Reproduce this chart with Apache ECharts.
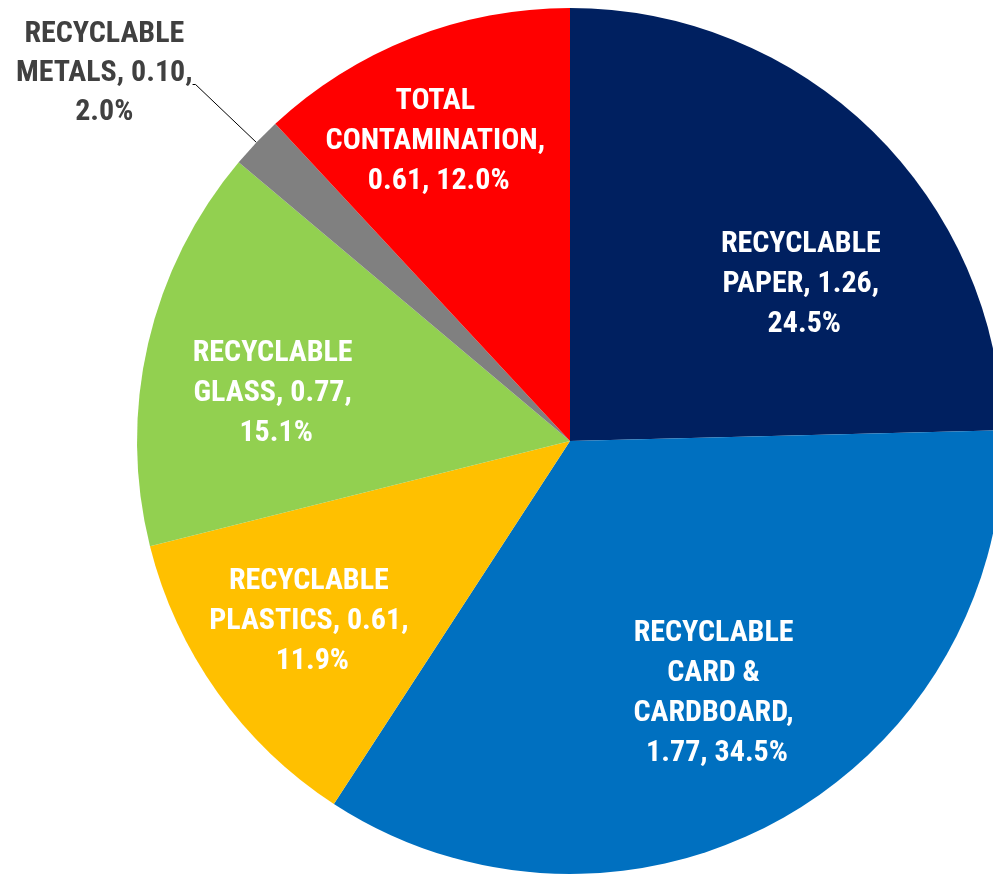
<!DOCTYPE html>
<html>
<head>
<meta charset="utf-8">
<script src="https://cdn.jsdelivr.net/npm/echarts@6/dist/echarts.min.js"></script>
<style>
  html, body { margin: 0; padding: 0; background: #ffffff; }
  #chart { width: 993px; height: 876px; }
</style>
</head>
<body>
<div id="chart"></div>
<script>
// Waste composition by category (tonnes and share of total)
const categories = [
  'RECYCLABLE PAPER',
  'RECYCLABLE CARD & CARDBOARD',
  'RECYCLABLE PLASTICS',
  'RECYCLABLE GLASS',
  'RECYCLABLE METALS',
  'TOTAL CONTAMINATION'
];
const tonnes = [1.26, 1.77, 0.61, 0.77, 0.10, 0.61];
const shares = ['24.5%', '34.5%', '11.9%', '15.1%', '2.0%', '12.0%'];

const colors = ['#002060', '#0070C0', '#FFC000', '#92D050', '#808080', '#FF0000'];

const FONT = "'Liberation Sans Narrow', 'Roboto Condensed', 'DejaVu Sans Condensed', 'Arial Narrow', sans-serif";

// Per-slice label tweaks: wrap width and nudge from the default inside spot
const labelTweaks = [
  { width: 184, offset: [81, 1] },
  { width: 195, offset: [40, 61] },
  { width: 225, offset: [-79, 53] },
  { width: 184, offset: [-80, 2] },
  { outside: true },
  { width: 268, offset: [-51, -95] }
];

const data = categories.map((name, i) => {
  const t = labelTweaks[i];
  const item = {
    name: name,
    value: tonnes[i],
    itemStyle: { color: colors[i] }
  };
  if (t.outside) {
    // small slice: label sits outside, joined by a leader line;
    // lines are centred and lifted above the end of the leader
    item.label = {
      position: 'outside',
      color: '#404040',
      distanceToLabelLine: 0,
      formatter: p => {
        const words = p.name.split(' ');
        return [
          '{c|' + words[0] + '}',
          '{c|' + words.slice(1).join(' ') + ', ' + tonnes[p.dataIndex].toFixed(2) + ',}',
          '{c|' + shares[p.dataIndex] + '}',
          '{s|}'
        ].join('\n');
      },
      rich: {
        c: {
          align: 'center',
          color: '#404040',
          fontFamily: FONT,
          fontWeight: 'bold',
          fontSize: 30,
          lineHeight: 39
        },
        s: { lineHeight: 22, fontSize: 10 }
      }
    };
    item.labelLine = {
      show: true,
      length: 84,
      length2: 3,
      lineStyle: { color: '#000000', width: 1 }
    };
  } else {
    item.label = { position: 'inside', width: t.width, offset: t.offset };
  }
  return item;
});

const chart = echarts.init(document.getElementById('chart'), null, { renderer: 'canvas' });
chart.setOption({
  animation: false,
  series: [{
    type: 'pie',
    center: [570, 441],
    radius: [0, 433],
    startAngle: 90,
    clockwise: true,
    avoidLabelOverlap: false,
    data: data,
    itemStyle: { borderWidth: 0 },
    label: {
      show: true,
      color: '#ffffff',
      fontFamily: FONT,
      fontWeight: 'bold',
      fontSize: 30,
      lineHeight: 40,
      overflow: 'break',
      align: 'center',
      formatter: p => p.name + ', ' + tonnes[p.dataIndex].toFixed(2) + ', ' + shares[p.dataIndex]
    },
    labelLine: { show: false },
    emphasis: { disabled: true }
  }]
});
</script>
</body>
</html>
